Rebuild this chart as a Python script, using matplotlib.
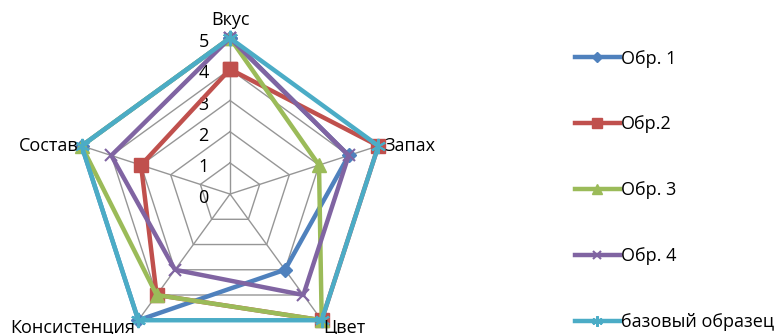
import numpy as np
import matplotlib
matplotlib.use("Agg")
import matplotlib.pyplot as plt

plt.rcParams['font.family'] = ['Open Sans', 'DejaVu Sans']

# оценки образцов по пяти показателям
categories = ['Вкус', 'Запах', 'Цвет', 'Консистенция', 'Состав']
obr1 = [5, 4, 3, 5, 5]
obr2 = [4, 5, 5, 4, 3]
obr3 = [5, 3, 5, 4, 5]
obr4 = [5, 4, 4, 3, 4]
base = [5, 5, 5, 5, 5]
series_names = ['Обр. 1', 'Обр.2', 'Обр. 3', 'Обр. 4', 'базовый образец']
ticks = [0, 1, 2, 3, 4, 5]

colors = ['#4F81BD', '#C0504D', '#9BBB59', '#8064A2', '#4BACC6']
markers = ['D', 's', '^', 'x', (6, 2, 0)]
msizes = [7, 10, 10, 9, 11]

fig = plt.figure(figsize=(7.83, 3.34), dpi=100)
ax = fig.add_axes([0.0945, -0.048, 0.3985, 0.934], projection='polar')
ax.set_theta_offset(np.pi / 2)
ax.set_theta_direction(-1)
ax.set_ylim(0, 5)
ax.spines['polar'].set_visible(False)
ax.grid(False)
ax.set_xticks([])
ax.set_yticks([])
ax.patch.set_alpha(0)

n = len(categories)
angles = np.linspace(0, 2 * np.pi, n, endpoint=False)
closed = np.append(angles, angles[0])

# сетка: пятиугольники и лучи
for t in ticks[1:]:
    ax.plot(closed, [t] * (n + 1), color='#969696', lw=1.0, zorder=1)
for a in angles:
    ax.plot([a, a], [0, 5], color='#969696', lw=1.0, zorder=1)

# подписи шкалы
for t in ticks:
    ax.annotate(str(t), xy=(0, t), xytext=(-19, -3), textcoords='offset points',
                ha='center', va='center', fontsize=13, color='#000000', zorder=2)

# подписи осей
label_pos = [((0, 5), (0, 13), 'center', 'center'),
             ((angles[1], 5), (4, 0), 'left', 'center'),
             ((angles[2], 5), (1, -5), 'left', 'center'),
             ((angles[3], 5), (-2, -5), 'right', 'center'),
             ((angles[4], 5), (-2, 0), 'right', 'center')]
for name, (xy, off, ha, va) in zip(categories, label_pos):
    ax.annotate(name, xy=xy, xytext=off, textcoords='offset points',
                ha=ha, va=va, fontsize=13, color='#000000', zorder=6,
                annotation_clip=False)

data = [obr1, obr2, obr3, obr4, base]
handles = []
for i, vals in enumerate(data):
    v = np.append(vals, vals[0])
    h, = ax.plot(closed, v, color=colors[i], lw=3.2, marker=markers[i],
                 markersize=msizes[i], markeredgewidth=1.5 if i >= 3 else 1,
                 markeredgecolor=colors[i], zorder=3 + i * 0.1, clip_on=False)
    handles.append(h)

fig.legend(handles, series_names, loc='upper left', bbox_to_anchor=(0.713, 0.90),
           frameon=False, fontsize=13, labelspacing=2.65, handlelength=2.5,
           handletextpad=0.05, markerscale=0.7)

fig.savefig('out.png', dpi=100)
